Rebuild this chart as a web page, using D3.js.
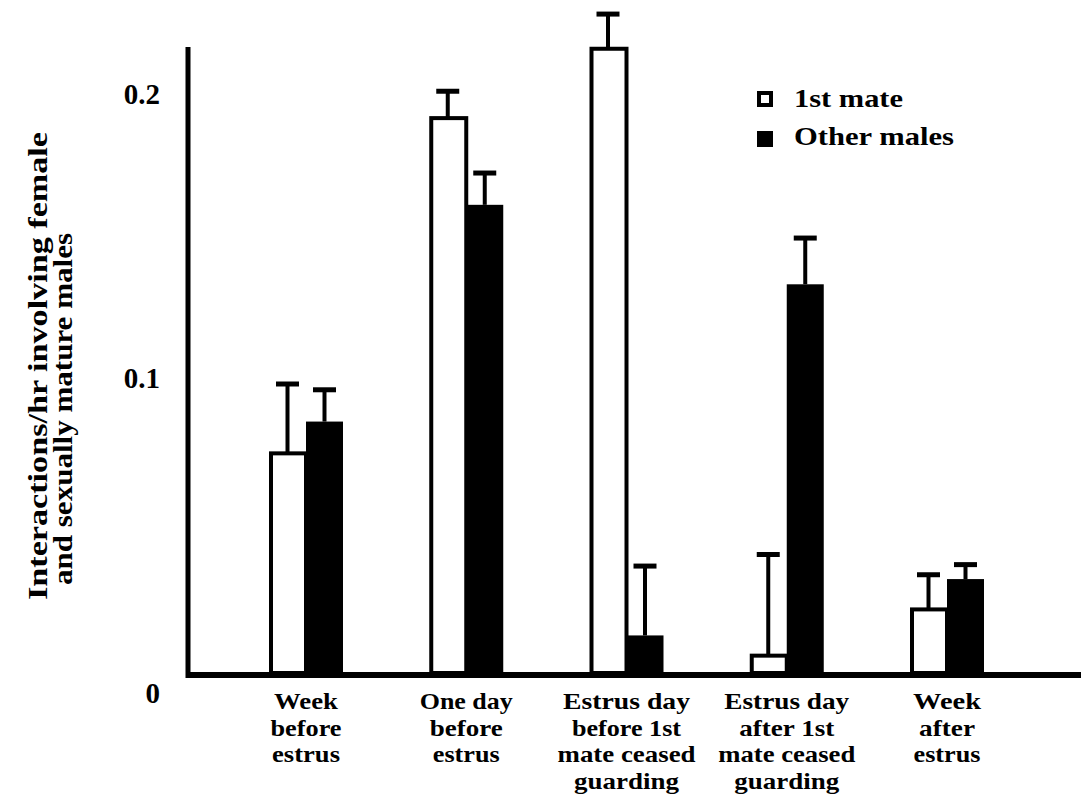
<!DOCTYPE html>
<html>
<head>
<meta charset="utf-8">
<script src="https://cdn.jsdelivr.net/npm/d3@7"></script>
<style>
  body { margin: 0; background: #fff; }
  svg text { font-family: "Times New Roman", Times, "Liberation Serif", serif; font-weight: bold; fill: #000; }
</style>
</head>
<body>
<div class="chart"></div>
<script>
// data
var categories = ["Week before estrus", "One day before estrus", "Estrus day before 1st mate ceased guarding",
                  "Estrus day after 1st mate ceased guarding", "Week after estrus"];
var categoryLines = [["Week", "before", "estrus"],
                     ["One day", "before", "estrus"],
                     ["Estrus day", "before 1st", "mate ceased", "guarding"],
                     ["Estrus day", "after 1st", "mate ceased", "guarding"],
                     ["Week", "after", "estrus"]];
var firstMate = [0.076, 0.192, 0.216, 0.006, 0.022];
var firstMateErr = [0.024, 0.0093, 0.012, 0.035, 0.012];
var otherMales = [0.087, 0.162, 0.013, 0.1345, 0.0325];
var otherMalesErr = [0.011, 0.011, 0.024, 0.016, 0.005];
var yTicks = [0, 0.1, 0.2];
var seriesNames = ["1st mate", "Other males"];
var yTitle = ["Interactions/hr involving female", "and sexually mature males"];

var svgWidth = 1081;
var svgHeight = 800;
var barW = 37;

var svg = d3.select(".chart")
  .append("svg")
    .attr("width", svgWidth)
    .attr("height", svgHeight);

var x = d3.scalePoint().domain(categories).range([306, 947]);
var y = d3.scaleLinear().domain([0, 0.2]).range([673, 95]);

// fit text to the widths measured on the figure
function fitWidth(sel, w) {
  sel.attr("textLength", w).attr("lengthAdjust", "spacingAndGlyphs");
}

var groups = categories.map(function(c, i) {
  return {cat: c, m1: firstMate[i], e1: firstMateErr[i], m2: otherMales[i], e2: otherMalesErr[i]};
});

var chart = svg.append("g");

// error bars first, so the bars sit on top of the stems
function errorBar(cx, v, e) {
  chart.append("line")
    .attr("x1", cx).attr("x2", cx)
    .attr("y1", y(v)).attr("y2", y(v + e))
    .attr("stroke", "#000").attr("stroke-width", 4);
  chart.append("line")
    .attr("x1", cx - 11.5).attr("x2", cx + 11.5)
    .attr("y1", y(v + e)).attr("y2", y(v + e))
    .attr("stroke", "#000").attr("stroke-width", 5);
}

groups.forEach(function(d) {
  var c = x(d.cat);
  errorBar(c - barW / 2, d.m1, d.e1);
  errorBar(c + barW / 2, d.m2, d.e2);
});

chart.selectAll(".bar1")
  .data(groups)
  .enter().append("rect")
    .attr("class", "bar1")
    .attr("x", function(d) { return x(d.cat) - barW + 2; })
    .attr("width", barW - 2)
    .attr("y", function(d) { return y(d.m1); })
    .attr("height", function(d) { return y(0) - y(d.m1); })
    .attr("fill", "#fff")
    .attr("stroke", "#000")
    .attr("stroke-width", 4);

chart.selectAll(".bar2")
  .data(groups)
  .enter().append("rect")
    .attr("class", "bar2")
    .attr("x", function(d) { return x(d.cat); })
    .attr("width", barW)
    .attr("y", function(d) { return y(d.m2); })
    .attr("height", function(d) { return y(0) - y(d.m2); })
    .attr("fill", "#000");

// axis lines
svg.append("line")
  .attr("x1", 188).attr("x2", 188)
  .attr("y1", 47).attr("y2", 678)
  .attr("stroke", "#000").attr("stroke-width", 5);
svg.append("line")
  .attr("x1", 186).attr("x2", svgWidth)
  .attr("y1", 675).attr("y2", 675)
  .attr("stroke", "#000").attr("stroke-width", 6);

// y ticks (no tick marks, the 0 sits under the axis)
var yAxis = d3.axisLeft(y).tickValues(yTicks).tickSize(0)
  .tickFormat(function(d) { return d === 0 ? "0" : d3.format(".1f")(d); });
var yg = svg.append("g")
  .attr("transform", "translate(160,0)")
  .call(yAxis);
yg.select(".domain").remove();
yg.selectAll("text")
  .attr("x", 0)
  .attr("dy", function(d) { return d === 0 ? "1.0em" : (d === 0.1 ? "0.12em" : "0.3em"); })
  .style("font-size", "29px");

// category labels, widths per line from the figure
var labelWidths = [[64, 71, 68], [93, 73, 67], [127, 109, 138, 105], [125, 95, 137, 105], [68, 56, 67]];
groups.forEach(function(d, i) {
  svg.append("g").selectAll("text")
    .data(categoryLines[i])
    .enter().append("text")
      .attr("x", x(d.cat))
      .attr("y", function(s, j) { return 709 + j * 26.5; })
      .attr("text-anchor", "middle")
      .style("font-size", "24px")
      .attr("textLength", function(s, j) { return labelWidths[i][j]; })
      .attr("lengthAdjust", "spacingAndGlyphs")
      .text(function(s) { return s; });
});

// y title
svg.append("text")
  .attr("transform", "translate(47,600) rotate(-90)")
  .style("font-size", "27px")
  .text(yTitle[0])
  .call(fitWidth, 468);
svg.append("text")
  .attr("transform", "translate(72,585) rotate(-90)")
  .style("font-size", "27px")
  .text(yTitle[1])
  .call(fitWidth, 352);

// legend
var legend = svg.append("g");
legend.append("rect")
  .attr("x", 759).attr("y", 93).attr("width", 12).attr("height", 12)
  .attr("fill", "#fff").attr("stroke", "#000").attr("stroke-width", 4);
legend.append("rect")
  .attr("x", 757).attr("y", 131).attr("width", 16).attr("height", 16)
  .attr("fill", "#000");
legend.selectAll(".ltxt")
  .data(seriesNames)
  .enter().append("text")
    .attr("class", "ltxt")
    .attr("x", 794)
    .attr("y", function(d, i) { return 107 + i * 38; })
    .style("font-size", "26px")
    .attr("textLength", function(d, i) { return [109, 160][i]; })
    .attr("lengthAdjust", "spacingAndGlyphs")
    .text(function(d) { return d; });
</script>
</body>
</html>
